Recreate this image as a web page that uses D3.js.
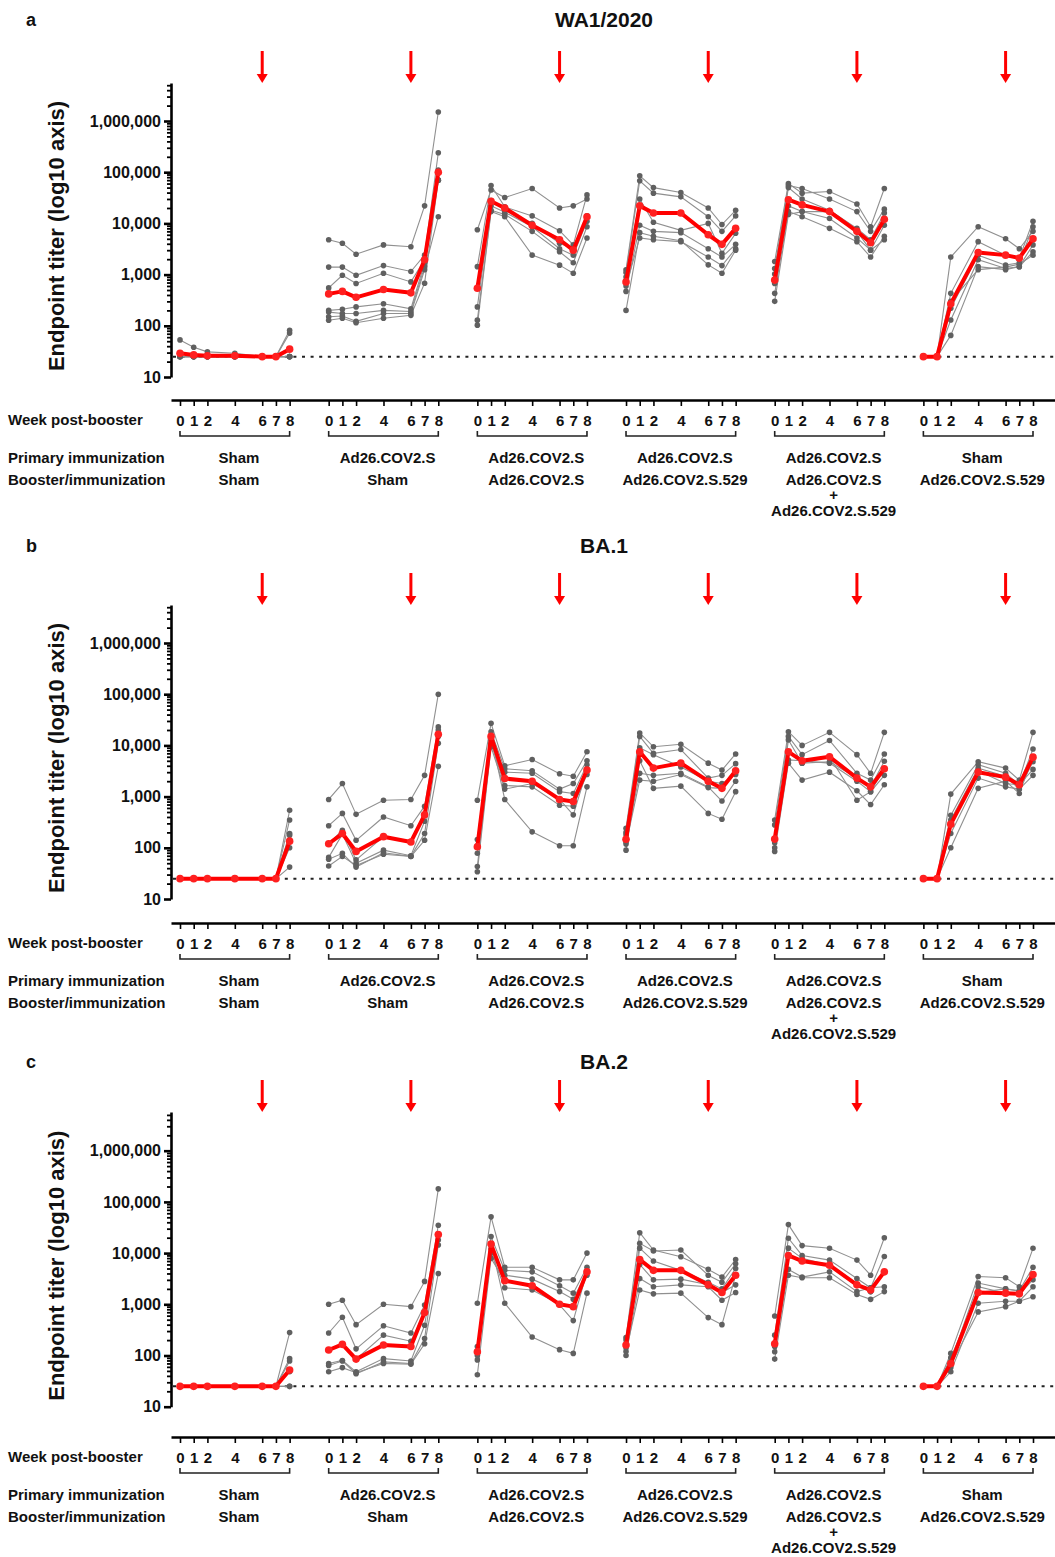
<!DOCTYPE html>
<html>
<head>
<meta charset="utf-8">
<script src="https://cdn.jsdelivr.net/npm/d3@7.9.0/dist/d3.min.js"></script>
<style>
  body { margin: 0; background: #fff; }
  svg text { font-family: "Liberation Sans", Arial, sans-serif; font-weight: bold; fill: #111; }
</style>
</head>
<body>
<svg id="chart" width="1055" height="1557"></svg>
<script>
const weeks = [0, 1, 2, 4, 6, 7, 8];
const weekLabels = ['0', '1', '2', '4', '6', '7', '8'];
const yTicks = [10, 100, 1000, 10000, 100000, 1000000];
const LOD = 25;

const primary = ['Sham', 'Ad26.COV2.S', 'Ad26.COV2.S', 'Ad26.COV2.S', 'Ad26.COV2.S', 'Sham'];
const booster = [['Sham'], ['Sham'], ['Ad26.COV2.S'], ['Ad26.COV2.S.529'],
  ['Ad26.COV2.S', '+', 'Ad26.COV2.S.529'], ['Ad26.COV2.S.529']];

// ---- WA1/2020 ----
const wa1_g1 = [[53, 38, 31, 29, 25, 25, 82], [29, 25, 25, 25, 25, 25, 72], [25, 25, 25, 25, 25, 25, 25],
  [25, 25, 25, 25, 25, 25, 25], [25, 25, 25, 25, 25, 25, 25], [25, 25, 25, 25, 25, 25, 25]];
const wa1_g2 = [[4800, 4100, 2500, 3800, 3500, 22000, 1500000], [1400, 1400, 970, 1500, 1150, 2400, 240000],
  [550, 970, 670, 1060, 720, 1950, 70000], [200, 210, 234, 270, 215, 1700, 110000],
  [185, 174, 174, 200, 190, 1430, 70000], [150, 155, 122, 174, 174, 1250, 13500],
  [128, 140, 115, 140, 160, 680, 70000]];
const wa1_g3 = [[7500, 45000, 32000, 48000, 20000, 22000, 30000], [1430, 55000, 21000, 14000, 7200, 3800, 36000],
  [540, 28000, 18000, 10000, 4100, 3200, 14000], [234, 22000, 16500, 8600, 3200, 2400, 11000],
  [129, 18000, 15000, 7000, 2800, 1700, 8600], [103, 17000, 13500, 2400, 1530, 1060, 5200]];
const wa1_g4 = [[1240, 85000, 50000, 40000, 20000, 9500, 18000], [1100, 68000, 39000, 33000, 13500, 7000, 14000],
  [900, 30000, 10500, 7300, 10000, 2600, 6400], [470, 9200, 7000, 6600, 3200, 2200, 3900],
  [200, 6600, 5600, 4600, 1550, 1060, 3000], [600, 5200, 4800, 4400, 2200, 1500, 3200]];
const wa1_g5 = [[1800, 60000, 39000, 42000, 24000, 8600, 48000], [1320, 55000, 48000, 30000, 17000, 7000, 19000],
  [1030, 50000, 30000, 18000, 8000, 4800, 16000], [670, 22000, 17000, 12500, 5200, 3000, 9200],
  [430, 17000, 13500, 8000, 4400, 2200, 5600], [300, 15000, 17000, 17000, 7000, 3000, 4800]];
const wa1_g6 = [[25, 25, 2200, 8600, 5000, 3200, 7000], [25, 25, 430, 4400, 2400, 2100, 11000],
  [25, 25, 220, 2400, 1530, 1700, 8600], [25, 25, 130, 1950, 1320, 1430, 3800],
  [25, 25, 65, 1430, 1250, 1430, 2800], [25, 25, 300, 1250, 1400, 1600, 2400]];
const wa1_means = [[29, 27, 26, 26, 25, 25, 35], [420, 470, 360, 510, 440, 1950, 100000],
  [540, 27000, 20000, 9200, 4800, 3000, 13500], [720, 22000, 16000, 16000, 6000, 3900, 8000],
  [780, 29000, 23000, 17000, 7000, 4200, 12000], [25, 25, 270, 2700, 2400, 2100, 5000]];

// ---- BA.1 ----
const ba1_g1 = [[25, 25, 25, 25, 25, 25, 540], [25, 25, 25, 25, 25, 25, 350], [25, 25, 25, 25, 25, 25, 190],
  [25, 25, 25, 25, 25, 25, 175], [25, 25, 25, 25, 25, 25, 100], [25, 25, 25, 25, 25, 25, 42]];
const ba1_g2 = [[880, 1800, 450, 850, 880, 2600, 100000], [270, 470, 140, 400, 270, 650, 23000],
  [120, 220, 58, 165, 130, 440, 20000], [65, 185, 50, 90, 70, 330, 15000],
  [60, 78, 42, 80, 68, 190, 11000], [44, 68, 45, 75, 68, 140, 3900]];
const ba1_g3 = [[850, 27000, 4000, 5300, 2800, 2500, 7500], [145, 18500, 3500, 3200, 1400, 1800, 5000],
  [78, 12800, 3000, 2850, 1250, 1150, 4200], [43, 11000, 1650, 1550, 680, 650, 2700],
  [34, 9400, 1400, 1800, 880, 440, 3300], [110, 15000, 880, 205, 110, 110, 1550]];
const ba1_g4 = [[240, 17500, 9400, 10500, 4500, 3300, 6800], [200, 15000, 7000, 8300, 2300, 2600, 4400],
  [180, 9000, 6600, 3800, 2000, 1800, 2700], [130, 2850, 2600, 2850, 1550, 820, 2000],
  [118, 2100, 2000, 2700, 1500, 1450, 3200], [90, 5000, 1450, 1600, 470, 360, 1250]];
const ba1_g5 = [[350, 18500, 10000, 18000, 6600, 2850, 18000], [280, 15000, 6600, 12500, 2850, 2100, 6800],
  [125, 12800, 4500, 4800, 2300, 1550, 4900], [100, 5200, 5000, 4500, 2000, 1250, 2600],
  [85, 4500, 2100, 3000, 1300, 700, 1700], [150, 7500, 4500, 6000, 850, 1250, 3500]];
const ba1_g6 = [[25, 25, 1120, 4800, 3600, 2100, 18000], [25, 25, 430, 4200, 2850, 1700, 8500],
  [25, 25, 350, 3600, 2500, 1400, 4800], [25, 25, 300, 3200, 1800, 1700, 3400],
  [25, 25, 190, 2300, 1550, 1400, 2600], [25, 25, 100, 1450, 2000, 1150, 5900]];
const ba1_means = [[25, 25, 25, 25, 25, 25, 135], [120, 190, 85, 165, 130, 440, 16500],
  [105, 15000, 2250, 2000, 880, 800, 3300], [147, 7500, 3600, 4500, 2000, 1450, 3200],
  [148, 7500, 5000, 6000, 2300, 1550, 3500], [25, 25, 290, 3000, 2400, 1700, 5900]];

// ---- BA.2 ----
const ba2_g1 = [[25, 25, 25, 25, 25, 25, 280], [25, 25, 25, 25, 25, 25, 87], [25, 25, 25, 25, 25, 25, 78],
  [25, 25, 25, 25, 25, 25, 48], [25, 25, 25, 25, 25, 25, 25], [25, 25, 25, 25, 25, 25, 25]];
const ba2_g2 = [[1000, 1200, 400, 1000, 900, 2800, 180000], [275, 560, 135, 380, 275, 970, 35000],
  [128, 170, 85, 250, 190, 690, 22000], [70, 80, 48, 87, 78, 390, 18000],
  [64, 78, 44, 75, 70, 215, 14400], [48, 58, 46, 70, 68, 170, 4000]];
const ba2_g3 = [[1050, 51000, 5300, 5300, 3000, 3000, 10000], [150, 21000, 4600, 4300, 2300, 1650, 5300],
  [118, 12000, 3700, 3100, 1770, 1250, 4300], [82, 10000, 2100, 1900, 1000, 900, 3700],
  [42, 7900, 2900, 2300, 970, 480, 4300], [100, 15000, 1050, 230, 130, 110, 1650]];
const ba2_g4 = [[225, 25000, 11500, 8500, 4800, 3400, 7500], [200, 15500, 11000, 11500, 3700, 2700, 6200],
  [160, 12500, 7000, 4600, 2700, 2000, 5000], [140, 6000, 3000, 3100, 2400, 1700, 2400],
  [100, 3200, 2200, 2400, 2200, 1200, 1700], [120, 1900, 1600, 1650, 550, 400, 3700]];
const ba2_g5 = [[590, 36000, 14000, 12400, 7300, 3700, 20000], [250, 19500, 9000, 7300, 3200, 2100, 8600],
  [150, 12500, 7900, 5800, 2400, 1770, 4300], [118, 4800, 3400, 4300, 1770, 2100, 2200],
  [85, 3700, 3300, 3300, 1550, 1250, 1770], [170, 9000, 7000, 5800, 2400, 1770, 4300]];
const ba2_g6 = [[25, 25, 110, 3500, 3300, 2200, 12400], [25, 25, 75, 2600, 2000, 1850, 5300],
  [25, 25, 58, 2200, 1650, 1600, 3000], [25, 25, 48, 1050, 1150, 1150, 2200],
  [25, 25, 65, 710, 900, 1150, 1400], [25, 25, 90, 1700, 2000, 1800, 3800]];
const ba2_means = [[25, 25, 25, 25, 25, 25, 52], [128, 165, 85, 160, 150, 690, 23000],
  [118, 15000, 2900, 2300, 1000, 900, 4300], [160, 7500, 4600, 4600, 2400, 1700, 3700],
  [170, 9000, 7000, 5800, 2400, 1900, 4300], [25, 25, 70, 1700, 1650, 1600, 3800]];

const panels = [
  { letter: 'a', title: 'WA1/2020', groups: [wa1_g1, wa1_g2, wa1_g3, wa1_g4, wa1_g5, wa1_g6], means: wa1_means,
    titleY: 19, y10: 377, top: 83, arrowTop: 51, xAxisY: 400 },
  { letter: 'b', title: 'BA.1', groups: [ba1_g1, ba1_g2, ba1_g3, ba1_g4, ba1_g5, ba1_g6], means: ba1_means,
    titleY: 545, y10: 899, top: 605, arrowTop: 573, xAxisY: 923 },
  { letter: 'c', title: 'BA.2', groups: [ba2_g1, ba2_g2, ba2_g3, ba2_g4, ba2_g5, ba2_g6], means: ba2_means,
    titleY: 1061, y10: 1406.7, top: 1112, arrowTop: 1080, xAxisY: 1437 }
];

const svg = d3.select('#chart');
const FONT = '"Liberation Sans", Arial, sans-serif';

// continuous week axis with gaps between groups
const G = 10.85;
const x = d3.scaleLinear().domain([0, 5 * G + 8]).range([180, 1033]);
const xFull = x.copy().domain([x.invert(171), x.invert(1055)]).range([171, 1055]);
const pos = (g, w) => g * G + w;

const allTicks = [];
for (let g = 0; g < 6; g++) weeks.forEach((w, i) => allTicks.push({ v: pos(g, w), label: weekLabels[i] }));

panels.forEach(p => {
  const gP = svg.append('g');
  const yMax = Math.pow(10, 1 + (p.y10 - p.top) / 51.2);
  const y = d3.scaleLog().domain([10, yMax]).range([p.y10, p.top]);

  gP.append('text').attr('x', 26).attr('y', p.titleY + 1).attr('dominant-baseline', 'central')
    .style('font-size', '18px').text(p.letter);
  gP.append('text').attr('x', 604).attr('y', p.titleY).attr('dominant-baseline', 'central')
    .attr('text-anchor', 'middle').style('font-size', '21px').text(p.title);

  // y axis
  const minors = [];
  for (let e = 1; e <= 6; e++) for (let m = 2; m <= 9; m++) {
    const v = m * Math.pow(10, e);
    if (v <= yMax) minors.push(v);
  }
  gP.append('g').attr('transform', 'translate(171,0)')
    .call(d3.axisLeft(y).tickValues(minors).tickFormat('').tickSize(4).tickSizeOuter(0))
    .call(a => a.select('.domain').remove())
    .call(a => a.selectAll('line').attr('stroke', '#000').attr('stroke-width', 1.8));
  const yAx = gP.append('g').attr('transform', 'translate(171,0)')
    .call(d3.axisLeft(y).tickValues(yTicks).tickFormat(d3.format(',')).tickSize(7).tickSizeOuter(0).tickPadding(3));
  yAx.select('.domain').attr('stroke', '#000').attr('stroke-width', 2.6);
  yAx.selectAll('line').attr('stroke', '#000').attr('stroke-width', 2.6);
  yAx.selectAll('text').style('font-size', '16px').style('font-family', FONT)
    .style('font-weight', 'bold').attr('fill', '#111');

  gP.append('text')
    .attr('transform', `translate(56,${p.y10 - 141}) rotate(-90)`)
    .attr('text-anchor', 'middle').attr('dominant-baseline', 'central')
    .style('font-size', '22px').text('Endpoint titer (log10 axis)');

  // limit of detection
  gP.append('line').attr('x1', 173).attr('x2', 1055).attr('y1', y(LOD)).attr('y2', y(LOD))
    .attr('stroke', '#222').attr('stroke-width', 2).attr('stroke-dasharray', '3,5.6');

  // x axis
  const xAx = gP.append('g').attr('transform', `translate(0,${p.xAxisY})`)
    .call(d3.axisBottom(xFull).tickValues(allTicks.map(t => t.v))
      .tickFormat((d, i) => allTicks[i].label).tickSize(6).tickSizeOuter(0));
  xAx.select('.domain').attr('stroke', '#000').attr('stroke-width', 2.6);
  xAx.selectAll('line').attr('stroke', '#000').attr('stroke-width', 1.6);
  xAx.selectAll('text').attr('y', 20).attr('dy', null).attr('dominant-baseline', 'central')
    .style('font-size', '15px').style('font-family', FONT)
    .style('font-weight', 'bold').attr('fill', '#111');

  gP.append('text').attr('x', 8).attr('y', p.xAxisY + 19).attr('dominant-baseline', 'central')
    .style('font-size', '15px').text('Week post-booster');
  gP.append('text').attr('x', 8).attr('y', p.xAxisY + 57).attr('dominant-baseline', 'central')
    .style('font-size', '15px').text('Primary immunization');
  gP.append('text').attr('x', 8).attr('y', p.xAxisY + 79).attr('dominant-baseline', 'central')
    .style('font-size', '15px').text('Booster/immunization');

  const line = d3.line().x(d => d.x).y(d => y(d.v));

  p.groups.forEach((animals, g) => {
    const x0 = x(pos(g, 0)), x8 = x(pos(g, 8)), cx = x(pos(g, 4.3));
    const b = p.xAxisY + 36;
    gP.append('path').attr('d', `M${x0},${b - 5}V${b}H${x8}V${b - 5}`)
      .attr('fill', 'none').attr('stroke', '#222').attr('stroke-width', 1.6);

    gP.append('text').attr('x', cx).attr('y', p.xAxisY + 57).attr('text-anchor', 'middle')
      .attr('dominant-baseline', 'central').style('font-size', '15px').text(primary[g]);
    booster[g].forEach((s, k) => {
      gP.append('text').attr('x', cx).attr('y', p.xAxisY + 79 + k * 15.8).attr('text-anchor', 'middle')
        .attr('dominant-baseline', 'central').style('font-size', '15px').text(s);
    });

    // arrow at week 6
    const ax = x(pos(g, 6));
    gP.append('line').attr('x1', ax).attr('x2', ax).attr('y1', p.arrowTop).attr('y2', p.top - 7)
      .attr('stroke', '#ff0000').attr('stroke-width', 3);
    gP.append('path').attr('d', `M${ax - 5.5},${p.top - 9}L${ax + 5.5},${p.top - 9}L${ax},${p.top}Z`)
      .attr('fill', '#ff0000');

    const pts = a => a.map((v, i) => ({ x: x(pos(g, weeks[i])), v }));
    animals.forEach(a => {
      gP.append('path').attr('d', line(pts(a))).attr('fill', 'none')
        .attr('stroke', '#909090').attr('stroke-width', 1.1);
    });
    animals.forEach(a => {
      gP.selectAll(null).data(pts(a)).join('circle')
        .attr('cx', d => d.x).attr('cy', d => y(d.v)).attr('r', 2.8).attr('fill', '#606060');
    });
    const m = pts(p.means[g]);
    gP.append('path').attr('d', line(m)).attr('fill', 'none')
      .attr('stroke', '#ff0000').attr('stroke-width', 4).attr('stroke-linejoin', 'round');
    gP.selectAll(null).data(m).join('circle')
      .attr('cx', d => d.x).attr('cy', d => y(d.v)).attr('r', 3.8).attr('fill', '#ff2020');
  });
});
</script>
</body>
</html>
